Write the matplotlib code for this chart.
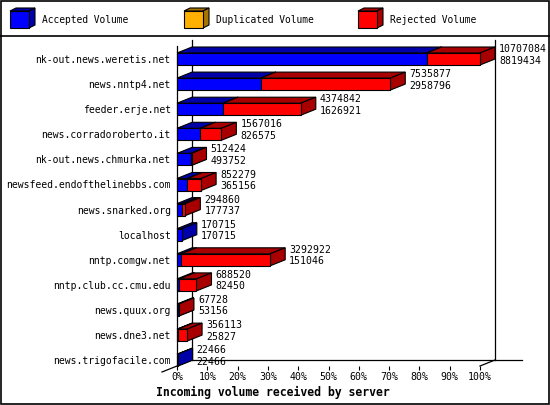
import matplotlib
matplotlib.use("Agg")
import matplotlib.pyplot as plt
from matplotlib.patches import Rectangle, Polygon

# ---------------- data ----------------
servers = ["nk-out.news.weretis.net", "news.nntp4.net", "feeder.erje.net",
           "news.corradoroberto.it", "nk-out.news.chmurka.net",
           "newsfeed.endofthelinebbs.com", "news.snarked.org", "localhost",
           "nntp.comgw.net", "nntp.club.cc.cmu.edu", "news.quux.org",
           "news.dne3.net", "news.trigofacile.com"]
total_volume = [10707084, 7535877, 4374842, 1567016, 512424, 852279, 294860,
                170715, 3292922, 688520, 67728, 356113, 22466]
accepted_volume = [8819434, 2958796, 1626921, 826575, 493752, 365156, 177737,
                   170715, 151046, 82450, 53156, 25827, 22466]
duplicated_volume = [0] * 13
x_ticks = [0, 10, 20, 30, 40, 50, 60, 70, 80, 90, 100]
x_ticklabels = [f"{t}%" for t in x_ticks]
legend_labels = ["Accepted Volume", "Duplicated Volume", "Rejected Volume"]
x_title = "Incoming volume received by server"

rejected_volume = [t - a - d for t, a, d in zip(total_volume, accepted_volume, duplicated_volume)]

# ---------------- style ----------------
FONT = "DejaVu Sans Mono"
FS = 7.1
colors = {"acc": ("#0000FF", "#0000A8"),
          "dup": ("#FFB000", "#A87400"),
          "rej": ("#FF0000", "#A80000")}

W, H = 550, 405
fig = plt.figure(figsize=(W / 100, H / 100), dpi=100)
fig.patch.set_facecolor("white")

# background / decoration axes in pixel coordinates
bg = fig.add_axes([0, 0, 1, 1])
bg.set_xlim(0, W)
bg.set_ylim(H, 0)
bg.axis("off")
bg.add_patch(Rectangle((0.5, 0.5), W - 1.5, H - 1.5, fill=False, ec="black", lw=1.2))
bg.plot([0, W], [35.5, 35.5], color="black", lw=1.2)

# legend
leg_x = [10, 184, 358]
for (key, lab, lx) in zip(["acc", "dup", "rej"], legend_labels, leg_x):
    fc, dc = colors[key]
    x0, x1, yt, yb, ddx, ddy = lx, lx + 19, 11, 28, 6, -3
    bg.add_patch(Polygon([(x0, yt), (x0 + ddx, yt + ddy), (x1 + ddx, yt + ddy), (x1, yt)],
                         closed=True, fc=dc, ec="black", lw=0.8))
    bg.add_patch(Polygon([(x1, yt), (x1 + ddx, yt + ddy), (x1 + ddx, yb + ddy), (x1, yb)],
                         closed=True, fc=dc, ec="black", lw=0.8))
    bg.add_patch(Rectangle((x0, yt), x1 - x0, yb - yt, fc=fc, ec="black", lw=0.8))
    bg.text(lx + 32, 20, lab, family=FONT, fontsize=6.9, va="center", ha="left")

# ---------------- main axes ----------------
AX_L, AX_R, AX_T, AX_B = 177, 480, 46, 366
ROW0, ROWSTEP = 59.0, 25.1
ax = fig.add_axes([AX_L / W, 1 - AX_B / H, (AX_R - AX_L) / W, (AX_B - AX_T) / H])
ax.set_zorder(2)
ax.patch.set_visible(False)
ax.set_xlim(0, 100)
ybot = (AX_B - ROW0) / ROWSTEP
ytop = (AX_T - ROW0) / ROWSTEP
ax.set_ylim(ybot, ytop)

sx = (AX_R - AX_L) / 100.0      # pixels per percent
sy = ROWSTEP                    # pixels per row
DX = 15 / sx
DY = -6 / sy
BH = 12 / sy

for s in ["top", "right", "bottom"]:
    ax.spines[s].set_visible(False)
ax.spines["left"].set_linewidth(0.9)

ax.set_yticks(range(len(servers)))
ax.set_yticklabels(servers, family=FONT, fontsize=7.0)
ax.tick_params(axis="y", length=0, pad=4.5)
ax.set_xticks(x_ticks)
ax.set_xticklabels(x_ticklabels, family=FONT, fontsize=FS)
ax.tick_params(axis="x", length=3, width=0.8, direction="out", pad=1.5)

# back wall / floor lines
lw = 0.9
ax.plot([DX, DX], [ytop + DY, ybot + DY], color="black", lw=lw, zorder=1, clip_on=False)
ax.plot([100 + DX, 100 + DX], [ytop + DY, ybot + DY], color="black", lw=lw, zorder=1, clip_on=False)
ax.plot([DX, (522 - AX_L) / sx], [ybot + DY, ybot + DY], color="black", lw=lw, zorder=1, clip_on=False)
ax.plot([-DX, DX], [ybot - DY, ybot + DY], color="black", lw=lw, zorder=1, clip_on=False)
ax.plot([100, 100 + DX], [ybot, ybot + DY], color="black", lw=lw, zorder=1, clip_on=False)


def box3d(x0, x1, yc, fc, dc):
    yt, yb = yc - BH / 2, yc + BH / 2
    kw = dict(ec="black", lw=0.8, zorder=3, clip_on=False)
    ax.add_patch(Polygon([(x0, yt), (x0 + DX, yt + DY), (x1 + DX, yt + DY), (x1, yt)],
                         closed=True, fc=dc, **kw))
    ax.add_patch(Polygon([(x1, yt), (x1 + DX, yt + DY), (x1 + DX, yb + DY), (x1, yb)],
                         closed=True, fc=dc, **kw))
    ax.add_patch(Rectangle((x0, yt), x1 - x0, BH, fc=fc, **kw))


vmax = max(total_volume)
for i in range(len(servers)):
    start = 0.0
    for key, vals in (("acc", accepted_volume), ("dup", duplicated_volume), ("rej", rejected_volume)):
        v = vals[i]
        if v <= 0:
            continue
        w = v / vmax * 100
        box3d(start, start + w, i, *colors[key])
        start += w
    end = total_volume[i] / vmax * 100
    tx = end + DX + 4 / sx
    ax.text(tx, i - 10 / sy, str(total_volume[i]), family=FONT, fontsize=FS,
            va="center", ha="left", zorder=4, clip_on=False)
    ax.text(tx, i + 1.5 / sy, str(accepted_volume[i]), family=FONT, fontsize=FS,
            va="center", ha="left", zorder=4, clip_on=False)

fig.text(156 / W, 1 - 392 / H, x_title, family=FONT, fontsize=8.3,
         fontweight="bold", va="center", ha="left")

fig.savefig("out.png", dpi=100)
